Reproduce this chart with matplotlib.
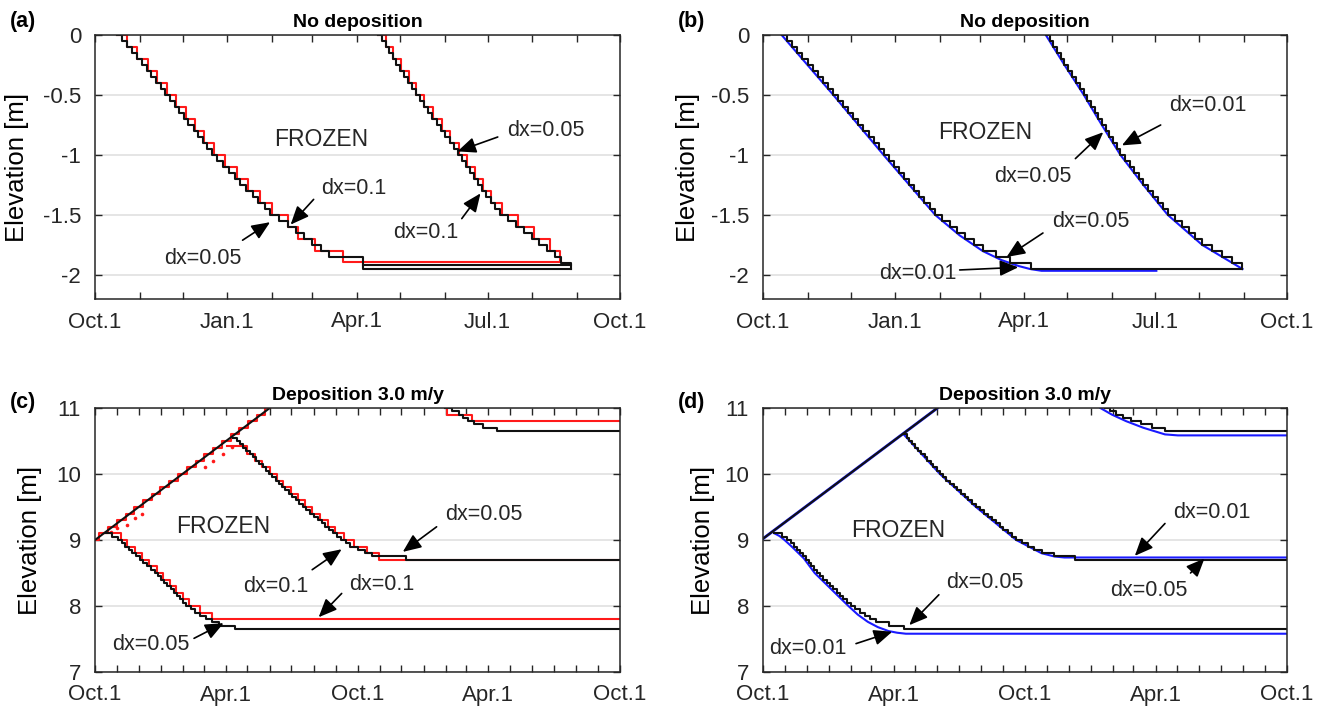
import matplotlib
matplotlib.use("Agg")
import matplotlib.pyplot as plt

plt.rcParams['font.family'] = ['Liberation Sans', 'DejaVu Sans']

# ---------------- data (days from Oct.1, elevation in m) ----------------
# Panel (a): dx=0.05 (black) vs dx=0.1 (red)
a_blk_fr_t = [15, 18.5, 22, 25.5, 29, 32.5, 36, 39, 42.5, 46, 49, 52, 55.5, 58.5, 62, 65, 68.5, 71.5, 75, 78,
              81, 85, 89, 93, 97, 101, 105, 109.5, 113.5, 118, 122, 128, 134, 140, 145, 151, 157, 163, 186, 331]
a_blk_fr_z = [0, -0.05, -0.1, -0.15, -0.2, -0.25, -0.3, -0.35, -0.4, -0.45, -0.5, -0.55, -0.6, -0.65, -0.7, -0.75,
              -0.8, -0.85, -0.9, -0.95, -1.0, -1.05, -1.1, -1.15, -1.2, -1.25, -1.3, -1.35, -1.4, -1.45, -1.5, -1.55,
              -1.6, -1.65, -1.7, -1.75, -1.8, -1.85, -1.95, -1.95]
a_red_fr_t = [15, 22.5, 29.5, 36.5, 43, 50, 56.5, 63, 69.5, 76, 82.5, 90.5, 98.5, 106.5, 115, 123, 134, 141, 153, 172.5, 324]
a_red_fr_z = [0, -0.1, -0.2, -0.3, -0.4, -0.5, -0.6, -0.7, -0.8, -0.9, -1.0, -1.1, -1.2, -1.3, -1.4, -1.5, -1.6,
              -1.7, -1.8, -1.895, -1.895]
a_red_th_t = [197, 202, 207, 212.5, 218, 223.5, 229, 235, 241, 247, 253, 258.5, 264, 269.5, 275.5, 283, 294, 305,
              316, 323, 324]
a_red_th_z = [0, -0.1, -0.2, -0.3, -0.4, -0.5, -0.6, -0.7, -0.8, -0.9, -1.0, -1.1, -1.2, -1.3, -1.4, -1.5, -1.6,
              -1.7, -1.8, -1.895, -1.895]
a_blk_th_t = [197, 199.5, 202, 204.5, 207, 209.5, 212, 215, 217.5, 220.5, 223, 226, 228.5, 231.5, 234.5, 237.5,
              240.5, 243.5, 246.5, 249.5, 252.5, 255, 258, 260.5, 263.5, 266, 269, 272, 275, 278, 281.5, 287, 292.5,
              298, 303.5, 309, 314.5, 319.5, 324, 331, 331]
a_blk_th_z = [0, -0.05, -0.1, -0.15, -0.2, -0.25, -0.3, -0.35, -0.4, -0.45, -0.5, -0.55, -0.6, -0.65, -0.7, -0.75,
              -0.8, -0.85, -0.9, -0.95, -1.0, -1.05, -1.1, -1.15, -1.2, -1.25, -1.3, -1.35, -1.4, -1.45, -1.5, -1.55,
              -1.6, -1.65, -1.7, -1.75, -1.8, -1.85, -1.9, -1.95, -1.95]
a_box_t = [186, 331]
a_box_z = [-1.92, -1.92]

# Panel (b): dx=0.05 (black) vs dx=0.01 (blue)
b_blk_fr_t = [13, 16.6, 20.2, 23.8, 27.4, 31, 34.6, 38.2, 41.8, 45.4, 49, 52.5, 56, 59.5, 63, 66.5, 70, 73.5, 77,
              80.5, 84, 87.5, 91, 94.5, 98, 101.5, 105, 108.5, 112, 116, 120, 125, 130, 135, 141, 147, 153, 162, 172,
              187, 334]
b_blk_fr_z = [0, -0.05, -0.1, -0.15, -0.2, -0.25, -0.3, -0.35, -0.4, -0.45, -0.5, -0.55, -0.6, -0.65, -0.7, -0.75,
              -0.8, -0.85, -0.9, -0.95, -1.0, -1.05, -1.1, -1.15, -1.2, -1.25, -1.3, -1.35, -1.4, -1.45, -1.5, -1.55,
              -1.6, -1.65, -1.7, -1.75, -1.8, -1.85, -1.9, -1.95, -1.95]
b_blu_fr_t = [13, 49, 84, 120, 137, 153, 166, 178, 186, 194, 274]
b_blu_fr_z = [0, -0.5, -1.0, -1.5, -1.67, -1.8, -1.875, -1.925, -1.95, -1.965, -1.965]
b_blk_th_t = [197, 199.6, 202.2, 204.8, 207.4, 210, 212.7, 215.4, 218.1, 220.8, 223.5, 226, 228.5, 231, 233.5, 236,
              238.6, 241.2, 243.8, 246.4, 249, 252.2, 255.4, 258.6, 261.8, 265, 268.4, 271.8, 275.2, 278.6, 282,
              286.8, 291.6, 296.4, 301.2, 306, 313, 320, 327, 334]
b_blk_th_z = [0, -0.05, -0.1, -0.15, -0.2, -0.25, -0.3, -0.35, -0.4, -0.45, -0.5, -0.55, -0.6, -0.65, -0.7, -0.75,
              -0.8, -0.85, -0.9, -0.95, -1.0, -1.05, -1.1, -1.15, -1.2, -1.25, -1.3, -1.35, -1.4, -1.45, -1.5, -1.55,
              -1.6, -1.65, -1.7, -1.75, -1.8, -1.85, -1.9, -1.95]
b_blu_th_t = [197, 210, 223.5, 236, 249, 265, 282, 306, 334]
b_blu_th_z = [0, -0.25, -0.5, -0.75, -1.0, -1.25, -1.5, -1.75, -1.95]

# Panel (c): deposition 3.0 m/y, dx=0.05 (black) vs dx=0.1 (red)
c_surf_t = [0, 243]
c_surf_z = [9.0, 11.0]
c_red_surf_t = [0, 12, 24, 36.5, 48.5, 61, 73, 85, 97, 109.5, 121.5, 133.5, 146, 158, 170, 182.5, 194.5, 206.5,
                219, 231, 243]
c_red_surf_z = [9.0, 9.1, 9.2, 9.3, 9.4, 9.5, 9.6, 9.7, 9.8, 9.9, 10.0, 10.1, 10.2, 10.3, 10.4, 10.5, 10.6, 10.7,
                10.8, 10.9, 11.0]
c_red_dots_t = [22, 30, 44, 55, 65, 153, 164, 178, 190]
c_red_dots_z = [9.12, 9.18, 9.22, 9.33, 9.40, 10.11, 10.20, 10.31, 10.41]
c_blk_lo_t = [14, 23, 32, 37, 42, 47, 52, 57, 62, 67, 72.5, 77.5, 83, 87.5, 92, 96, 100.5, 105, 109.5, 114, 118,
              122.5, 127, 133, 139.5, 146.5, 154, 162, 172, 195, 730]
c_blk_lo_z = [9.1, 9.05, 9.0, 8.95, 8.9, 8.85, 8.8, 8.75, 8.7, 8.65, 8.6, 8.55, 8.5, 8.45, 8.4, 8.35, 8.3, 8.25,
              8.2, 8.15, 8.1, 8.05, 8.0, 7.95, 7.9, 7.85, 7.8, 7.75, 7.7, 7.65, 7.65]
c_red_lo_t = [14, 36, 45, 55, 65, 75.5, 86, 95, 104, 113, 122, 131, 146, 162, 730]
c_red_lo_z = [9.1, 9.0, 8.9, 8.8, 8.7, 8.6, 8.5, 8.4, 8.3, 8.2, 8.1, 8.0, 7.9, 7.8, 7.8]
c_blk_th_t = [192, 197, 201.5, 206, 210.5, 215, 219.5, 224, 228.5, 233, 237.5, 242, 246.5, 251, 255.5, 260, 264.5,
              269.5, 274.5, 279, 284, 289, 294, 299, 304, 309.5, 315, 320, 325.5, 331, 336.5, 342, 349, 355, 366,
              376, 385, 433, 730]
c_blk_th_z = [10.55, 10.5, 10.45, 10.4, 10.35, 10.3, 10.25, 10.2, 10.15, 10.1, 10.05, 10.0, 9.95, 9.9, 9.85, 9.8,
              9.75, 9.7, 9.65, 9.6, 9.55, 9.5, 9.45, 9.4, 9.35, 9.3, 9.25, 9.2, 9.15, 9.1, 9.05, 9.0, 8.95, 8.9,
              8.85, 8.8, 8.75, 8.7, 8.7]
c_red_th_t = [183, 212, 222, 232, 243, 252.5, 262, 272, 282, 292, 302, 313, 323.5, 334, 346, 360, 378, 395, 730]
c_red_th_z = [10.42, 10.3, 10.2, 10.1, 10.0, 9.9, 9.8, 9.7, 9.6, 9.5, 9.4, 9.3, 9.2, 9.1, 9.0, 8.9, 8.8, 8.7, 8.7]
c_blk_up_t = [486, 496, 506, 512, 518, 527, 539, 559, 730]
c_blk_up_z = [11.0, 10.95, 10.9, 10.85, 10.8, 10.75, 10.7, 10.65, 10.65]
c_red_up_t = [486, 490, 524, 730]
c_red_up_z = [11.0, 10.9, 10.8, 10.8]

# Panel (d): deposition 3.0 m/y, dx=0.05 (black) vs dx=0.01 (blue)
d_surf_t = [0, 243]
d_surf_z = [9.02, 11.0]
d_blk_lo_t = [16, 26, 34, 39, 43.5, 47.5, 51.5, 55.5, 59.5, 63.5, 67.5, 71, 75, 79.5, 84, 88.5, 93, 98, 102.5, 107,
              112, 117, 122, 128, 135, 142, 149.5, 158, 175, 196, 730]
d_blk_lo_z = [9.1, 9.05, 9.0, 8.95, 8.9, 8.85, 8.8, 8.75, 8.7, 8.65, 8.6, 8.55, 8.5, 8.45, 8.4, 8.35, 8.3, 8.25,
              8.2, 8.15, 8.1, 8.05, 8.0, 7.95, 7.9, 7.85, 7.8, 7.75, 7.7, 7.65, 7.65]
d_blu_lo_t = [16, 23, 30, 42, 57, 72, 88, 103, 119, 132, 146, 160, 175, 187, 199, 730]
d_blu_lo_z = [9.1, 9.06, 9.0, 8.88, 8.72, 8.5, 8.33, 8.17, 8.0, 7.87, 7.76, 7.68, 7.62, 7.595, 7.58, 7.58]
d_blk_th_t = [196, 200, 204, 208, 212, 216.5, 220.5, 225, 229, 233.5, 237.5, 242, 246.5, 251, 255.5, 260.5, 265.5,
              270.5, 275.5, 281, 286, 291.5, 297, 302, 307.5, 313, 318.5, 324, 329.5, 335, 341, 347, 353, 361, 369,
              378, 388, 405, 435, 730]
d_blk_th_z = [10.6, 10.55, 10.5, 10.45, 10.4, 10.35, 10.3, 10.25, 10.2, 10.15, 10.1, 10.05, 10.0, 9.95, 9.9, 9.85,
              9.8, 9.75, 9.7, 9.65, 9.6, 9.55, 9.5, 9.45, 9.4, 9.35, 9.3, 9.25, 9.2, 9.15, 9.1, 9.05, 9.0, 8.95, 8.9,
              8.85, 8.8, 8.75, 8.7, 8.7]
d_blu_th_t = [196, 246.5, 296.7, 352.8, 388, 406, 420, 730]
d_blu_th_z = [10.6, 10.0, 9.5, 9.0, 8.8, 8.75, 8.735, 8.735]
d_blk_up_t = [477, 484, 492, 501, 512, 526, 542, 560, 730]
d_blk_up_z = [11.0, 10.95, 10.9, 10.85, 10.8, 10.75, 10.7, 10.65, 10.65]
d_blu_up_t = [470, 486, 506, 530, 560, 578, 730]
d_blu_up_z = [11.0, 10.9, 10.8, 10.7, 10.6, 10.585, 10.585]

# ticks / labels
month_days_1y = [0, 31, 61, 92, 123, 151, 182, 212, 243, 273, 304, 335, 365]
month_days_2y = month_days_1y + [396, 426, 457, 488, 516, 547, 577, 608, 638, 669, 700, 730]
labels_1y = {0: 'Oct.1', 92: 'Jan.1', 182: 'Apr.1', 273: 'Jul.1', 365: 'Oct.1'}
labels_2y = {0: 'Oct.1', 182: 'Apr.1', 365: 'Oct.1', 547: 'Apr.1', 730: 'Oct.1'}
yt_ab = [0, -0.5, -1, -1.5, -2]
yl_ab = ['0', '-0.5', '-1', '-1.5', '-2']
yt_cd = [7, 8, 9, 10, 11]
yl_cd = ['7', '8', '9', '10', '11']

# ---------------- figure ----------------
W, H = 1327, 712
fig = plt.figure(figsize=(W / 100, H / 100), dpi=100)

def add_ax(l, t, r, b):
    return fig.add_axes([l / W, 1 - b / H, (r - l) / W, (b - t) / H])

axA = add_ax(95, 35, 620, 299)
axB = add_ax(763, 35, 1287, 299)
axC = add_ax(95, 408, 620, 672)
axD = add_ax(763, 408, 1287, 672)

TXT = '#262626'
RED = '#ff1a1a'
BLUE = '#1a1aff'
BLK = '#111111'

def style(ax, xmax, ylim, yt, yl, mdays, labels, title, tag, tag_y, ylab_x):
    ax.set_xlim(0, xmax)
    ax.set_ylim(*ylim)
    ax.set_xticks(mdays)
    ax.set_xticklabels([labels.get(d, '') for d in mdays])
    ax.set_yticks(yt)
    ax.set_yticklabels(yl)
    ax.tick_params(direction='in', top=True, right=True, length=5, width=1, colors=TXT,
                   labelsize=16, pad=10)
    ax.tick_params(axis='x', pad=9)
    for s in ax.spines.values():
        s.set_color(TXT)
        s.set_linewidth(1.1)
    for y in yt:
        ax.axhline(y, color='#dedede', lw=1.1, zorder=0)
    ax.set_title(title, fontsize=14, fontweight='bold', color='black', pad=6)
    ax.text(-0.162, tag_y, tag, transform=ax.transAxes, fontsize=15.5, fontweight='bold',
            ha='left', va='center')
    ax.set_ylabel('Elevation [m]', fontsize=18.5, color='black')
    ax.yaxis.set_label_coords(ylab_x, 0.5)

def arrow(ax, start, end):
    ax.annotate('', xy=end, xytext=start,
                arrowprops=dict(arrowstyle='-|>,head_length=0.7,head_width=0.3', color='black',
                                lw=1.2, shrinkA=0, shrinkB=0, mutation_scale=16), zorder=6)

def label(ax, x, y, s, size=15.5):
    ax.text(x, y, s, fontsize=size, color=TXT, ha='center', va='center', zorder=6)

LW = 1.5

# ----- (a)
ax = axA
ax.step(a_red_fr_t, a_red_fr_z, where='post', color=RED, lw=LW)
ax.step(a_red_th_t, a_red_th_z, where='post', color=RED, lw=LW)
ax.step(a_blk_fr_t, a_blk_fr_z, where='post', color=BLK, lw=LW)
ax.step(a_blk_th_t, a_blk_th_z, where='post', color=BLK, lw=LW)
ax.plot(a_box_t, a_box_z, color=BLK, lw=LW)
style(ax, 365, (-2.2, 0), yt_ab, yl_ab, month_days_1y, labels_1y, 'No deposition', '(a)', 1.05, -0.125)
label(ax, 157, -0.875, 'FROZEN', 16.5)
label(ax, 313.6, -0.80, 'dx=0.05'); arrow(ax, (280, -0.85), (252, -0.97))
label(ax, 230, -1.65, 'dx=0.1'); arrow(ax, (255, -1.53), (268, -1.32))
label(ax, 180, -1.28, 'dx=0.1'); arrow(ax, (152, -1.37), (136, -1.58))
label(ax, 74.7, -1.86, 'dx=0.05'); arrow(ax, (102.6, -1.71), (121.7, -1.56))

# ----- (b)
ax = axB
ax.plot(b_blu_fr_t, b_blu_fr_z, color=BLUE, lw=LW)
ax.plot(b_blu_th_t, b_blu_th_z, color=BLUE, lw=LW)
ax.step(b_blk_fr_t, b_blk_fr_z, where='post', color=BLK, lw=LW)
ax.step(b_blk_th_t, b_blk_th_z, where='post', color=BLK, lw=LW)
style(ax, 365, (-2.2, 0), yt_ab, yl_ab, month_days_1y, labels_1y, 'No deposition', '(b)', 1.05, -0.12)
label(ax, 155, -0.81, 'FROZEN', 16.5)
label(ax, 309.6, -0.59, 'dx=0.01'); arrow(ax, (277, -0.75), (250, -0.92))
label(ax, 188, -1.18, 'dx=0.05'); arrow(ax, (217.6, -1.03), (237, -0.81))
label(ax, 228.5, -1.555, 'dx=0.05'); arrow(ax, (195, -1.65), (169.7, -1.85))
label(ax, 108, -1.99, 'dx=0.01'); arrow(ax, (137, -1.958), (177.8, -1.936))

# ----- (c)
ax = axC
ax.step(c_red_surf_t, c_red_surf_z, where='mid', color=RED, lw=LW)
ax.plot(c_red_dots_t, c_red_dots_z, 'o', color=RED, ms=2.6, mew=0)
ax.step(c_red_lo_t, c_red_lo_z, where='post', color=RED, lw=LW)
ax.step(c_red_th_t, c_red_th_z, where='post', color=RED, lw=LW)
ax.step(c_red_up_t, c_red_up_z, where='post', color=RED, lw=LW)
ax.plot(c_surf_t, c_surf_z, color=BLK, lw=LW)
ax.step(c_blk_lo_t, c_blk_lo_z, where='post', color=BLK, lw=LW)
ax.step(c_blk_th_t, c_blk_th_z, where='post', color=BLK, lw=LW)
ax.step(c_blk_up_t, c_blk_up_z, where='post', color=BLK, lw=LW)
style(ax, 730, (7, 11), yt_cd, yl_cd, month_days_2y, labels_2y, 'Deposition 3.0 m/y', '(c)', 1.02, -0.10)
label(ax, 178.8, 9.20, 'FROZEN', 16.5)
label(ax, 541, 9.39, 'dx=0.05'); arrow(ax, (475, 9.20), (428, 8.82))
label(ax, 252, 8.29, 'dx=0.1'); arrow(ax, (302, 8.55), (343, 8.86))
label(ax, 399, 8.32, 'dx=0.1'); arrow(ax, (343, 8.19), (311, 7.83))
label(ax, 77, 7.41, 'dx=0.05'); arrow(ax, (137.7, 7.51), (178.8, 7.74))

# ----- (d)
ax = axD
ax.plot(d_surf_t, d_surf_z, color=BLUE, lw=LW + 0.6)
ax.plot(d_blu_lo_t, d_blu_lo_z, color=BLUE, lw=LW)
ax.plot(d_blu_th_t, d_blu_th_z, color=BLUE, lw=LW)
ax.plot(d_blu_up_t, d_blu_up_z, color=BLUE, lw=LW)
ax.plot(d_surf_t, d_surf_z, color=BLK, lw=LW)
ax.step(d_blk_lo_t, d_blk_lo_z, where='post', color=BLK, lw=LW)
ax.step(d_blk_th_t, d_blk_th_z, where='post', color=BLK, lw=LW)
ax.step(d_blk_up_t, d_blk_up_z, where='post', color=BLK, lw=LW)
style(ax, 730, (7, 11), yt_cd, yl_cd, month_days_2y, labels_2y, 'Deposition 3.0 m/y', '(d)', 1.02, -0.092)
label(ax, 189, 9.15, 'FROZEN', 16.5)
label(ax, 625, 9.42, 'dx=0.01'); arrow(ax, (560, 9.25), (518, 8.76))
label(ax, 538, 8.23, 'dx=0.05'); arrow(ax, (595.6, 8.50), (615, 8.72))
label(ax, 309, 8.35, 'dx=0.05'); arrow(ax, (245, 8.17), (203.8, 7.71))
label(ax, 63, 7.36, 'dx=0.01'); arrow(ax, (129.6, 7.43), (180, 7.61))

fig.savefig('out.png', dpi=100)
